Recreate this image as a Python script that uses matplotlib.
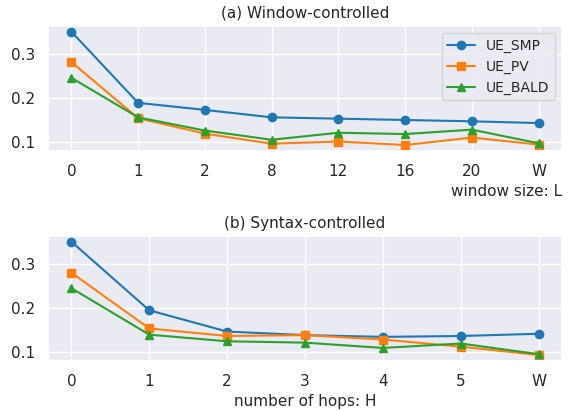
import matplotlib
matplotlib.use("Agg")
import matplotlib.pyplot as plt
import seaborn as sns

sns.set_theme(style="darkgrid")
plt.rcParams['font.family'] = ['DejaVu Sans']

window_labels = ["0", "1", "2", "8", "12", "16", "20", "W"]
win_smp = [0.350, 0.188, 0.172, 0.155, 0.152, 0.149, 0.146, 0.142]
win_pv = [0.281, 0.153, 0.118, 0.095, 0.100, 0.092, 0.109, 0.093]
win_bald = [0.245, 0.155, 0.125, 0.104, 0.120, 0.117, 0.127, 0.096]

hop_labels = ["0", "1", "2", "3", "4", "5", "W"]
hop_smp = [0.350, 0.195, 0.147, 0.139, 0.135, 0.137, 0.142]
hop_pv = [0.280, 0.154, 0.137, 0.139, 0.129, 0.113, 0.094]
hop_bald = [0.245, 0.140, 0.125, 0.122, 0.110, 0.120, 0.096]

fs = 11
W, H = 571, 411
fig = plt.figure(figsize=(W/100, H/100), dpi=100)
ax1 = fig.add_axes([48/W, 1-150.7/H, (562-48)/W, (150.7-26)/H])
ax2 = fig.add_axes([48/W, 1-360.7/H, (562-48)/W, (360.7-236)/H])

def draw(ax, labels, smp, pv, bald):
    x = list(range(len(labels)))
    ax.plot(x, smp, marker='o', color='#1f77b4', label='UE_SMP')
    ax.plot(x, pv, marker='s', color='#ff7f0e', label='UE_PV')
    ax.plot(x, bald, marker='^', color='#2ca02c', label='UE_BALD')
    ax.set_xticks(x)
    ax.set_xticklabels(labels)
    ax.set_yticks([0.1, 0.2, 0.3])
    ax.set_yticklabels(["0.1", "0.2", "0.3"])
    ax.tick_params(labelsize=fs)

draw(ax1, window_labels, win_smp, win_pv, win_bald)
draw(ax2, hop_labels, hop_smp, hop_pv, hop_bald)

ax1.set_title("(a) Window-controlled", fontsize=fs)
ax2.set_title("(b) Syntax-controlled", fontsize=fs)
ax1.set_xlabel("window size: L", fontsize=fs, loc='right')
ax2.set_xlabel("number of hops: H", fontsize=fs)
ax1.legend(loc='upper right', fontsize=10)

fig.savefig("out.png", dpi=100)
